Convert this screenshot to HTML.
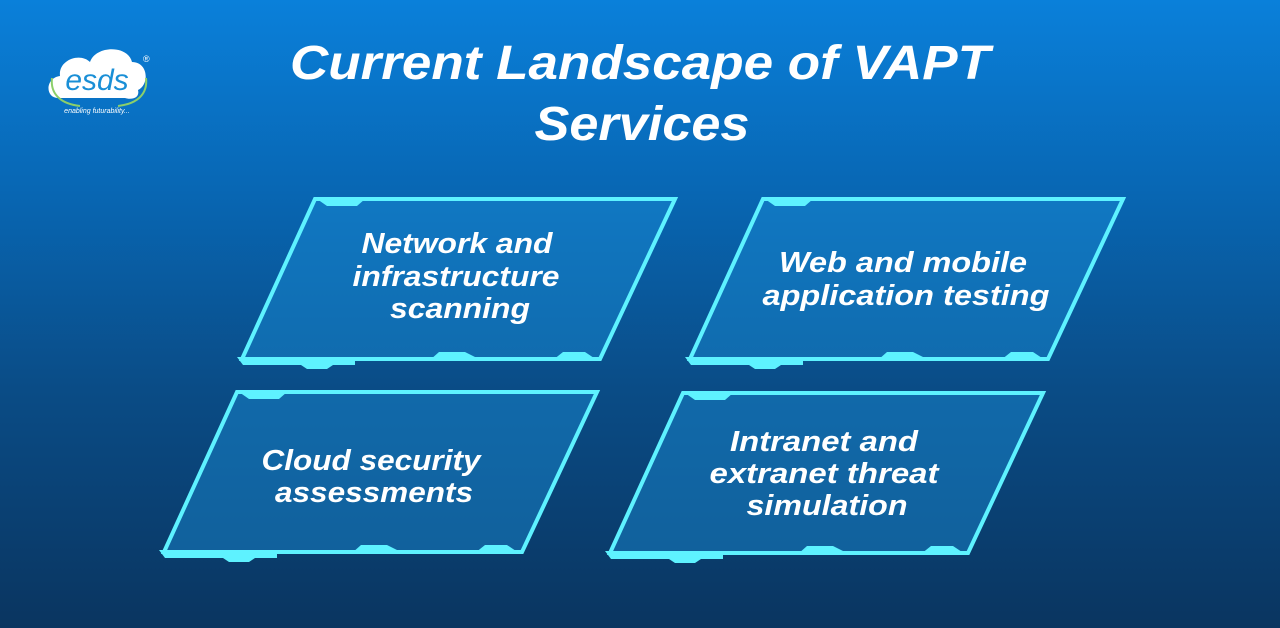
<!DOCTYPE html>
<html><head><meta charset="utf-8"><style>
html,body{margin:0;padding:0;}
body{width:1280px;height:628px;overflow:hidden;background:linear-gradient(180deg,#0a80da 0%,#0867b4 30%,#0a4c86 62%,#0a3560 100%);font-family:"Liberation Sans",sans-serif;}
svg{display:block}
</style></head><body>
<svg width="1280" height="628" viewBox="0 0 1280 628">
<defs>
<g id="box">
<polygon points="0,0 360,0 285,160 -73,160" fill="#1a8fd6" fill-opacity="0.45" stroke="#5ef2ff" stroke-width="4" stroke-linejoin="miter"/>
<polygon points="2,0 50,0 42,7 12,7" fill="#5ef2ff"/>
<polygon points="-78,158 40,158 40,166 18,166 12,170 -8,170 -14,166 -72,166" fill="#5ef2ff"/>
<polygon points="115,161 124,153 150,153 160,158 160,161" fill="#5ef2ff"/>
<polygon points="238,161 248,153 270,153 282,161" fill="#5ef2ff"/>
</g>
</defs>
<use href="#box" x="315" y="199"/>
<use href="#box" x="763" y="199"/>
<use href="#box" x="237" y="392"/>
<use href="#box" x="683" y="393"/>
<g font-family="Liberation Sans, sans-serif" font-weight="bold" font-style="italic" fill="#fff" text-anchor="middle">
<text x="640" y="79" font-size="48" textLength="700" lengthAdjust="spacingAndGlyphs">Current Landscape of VAPT</text>
<text x="642" y="140" font-size="48" textLength="215" lengthAdjust="spacingAndGlyphs">Services</text>
<g font-size="29" lengthAdjust="spacingAndGlyphs">
<text x="457" y="253" textLength="191" lengthAdjust="spacingAndGlyphs">Network and</text>
<text x="456" y="286" textLength="207" lengthAdjust="spacingAndGlyphs">infrastructure</text>
<text x="460" y="318" textLength="140" lengthAdjust="spacingAndGlyphs">scanning</text>
<text x="903" y="272" textLength="248" lengthAdjust="spacingAndGlyphs">Web and mobile</text>
<text x="906" y="305" textLength="287" lengthAdjust="spacingAndGlyphs">application testing</text>
<text x="371" y="470" textLength="219" lengthAdjust="spacingAndGlyphs">Cloud security</text>
<text x="374" y="502" textLength="198" lengthAdjust="spacingAndGlyphs">assessments</text>
<text x="824" y="451" textLength="188" lengthAdjust="spacingAndGlyphs">Intranet and</text>
<text x="824" y="483" textLength="229" lengthAdjust="spacingAndGlyphs">extranet threat</text>
<text x="827" y="515" textLength="161" lengthAdjust="spacingAndGlyphs">simulation</text>
</g>
</g>
<g>
<path d="M58,98 C45,98 45,78 60,76 C58,60 80,52 90,62 C96,45 128,45 132,62 C148,62 150,84 138,90 C140,98 132,100 125,98 Z" fill="#fff"/>
<path d="M52,78 C50,95 62,104 80,106 M146,78 C148,95 136,104 118,106" stroke="#8ccf6a" stroke-width="2" fill="none"/>
<text x="97" y="90" font-family="Liberation Sans, sans-serif" font-style="italic" font-size="30" fill="#1a8fd6" text-anchor="middle">esds</text>
<text x="143" y="62" font-size="9" fill="#fff" font-family="Liberation Sans, sans-serif">®</text>
<text x="97" y="113" font-size="7" fill="#fff" font-style="italic" text-anchor="middle" font-family="Liberation Sans, sans-serif">enabling futurability...</text>
</g>
</svg>
</body></html>
